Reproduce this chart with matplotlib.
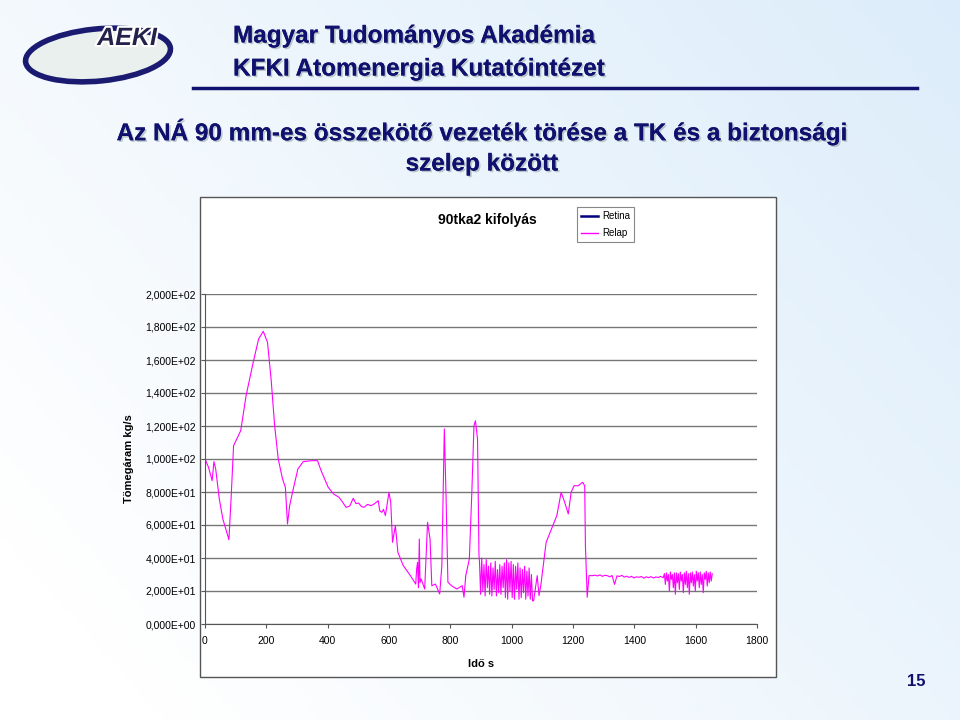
import numpy as np
import matplotlib.pyplot as plt
from matplotlib.patches import Rectangle, Ellipse
import matplotlib.patheffects as pe

# Relap mass flow
t_main_a = [0, 0, 11.6, 23.3, 29.1, 34.9, 46.6, 58.2, 78, 85, 93.2, 116.5, 134, 157.2, 174.7, 189.9,
            203.8, 215.5, 227.1, 238.8, 252.8, 262.1, 269, 276, 287.7, 302.8, 320.3, 349.4, 366.9,
            378.6, 401.9, 419.3, 436.8, 448, 460.1, 472, 483.4, 492, 500.9, 510, 518.3, 530, 541.6,
            552, 564.9, 570, 576.6, 582, 588.2, 599.9, 605.7, 611.5, 620.8, 629, 646.5, 669.8,
            687.2, 690, 693.1, 696, 698.9, 701, 704.7, 716.4, 722, 725.7, 733.8, 739.6, 751.3,
            765.3, 772.3, 780.4, 786.2, 792.1, 803.7, 821.2, 838.7, 844.5, 850.3, 862, 870.1,
            877.1, 881.8, 888.7, 893.4]
m_main_a = [0, 100, 94.9, 86.9, 98.4, 93.9, 75.8, 63.6, 51.1, 75.8, 108.1, 117.2, 138.4, 158.6, 172.7, 177.4,
            170.7, 148.5, 120.2, 100, 87.9, 82.8, 60.6, 71.7, 81.8, 93.9, 98.4, 99, 99,
            92.9, 82.8, 78.8, 76.8, 74.0, 70.7, 71.5, 76.2, 73.0, 73.3, 71.2, 70.7, 72.5, 71.7,
            72.8, 74.7, 68.5, 67.7, 69.5, 65.7, 79.8, 73.7, 49.5, 59.6, 43.4, 35.4, 29.3,
            24.2, 33.0, 37.4, 22.0, 51.5, 25.0, 27.3, 21.2, 45.0, 61.6, 51.5, 23.2, 24.2,
            18.2, 35.4, 118.2, 75.8, 25.3, 23.2, 21.2, 23.2, 16.2, 29.3, 39.4, 79.8,
            120.2, 123.2, 112.1, 41.4]

m_noise_1 = [38, 18, 40, 20, 36, 17, 39, 22, 35, 18, 37, 17, 34, 21, 38, 17, 33, 19, 36, 18,
             35, 22, 37, 16, 39, 15, 37, 20, 38, 16, 36, 15, 35, 21, 37, 15, 34, 16, 33, 19,
             35, 15, 32, 17, 34, 15, 30, 14]
m_main_b = [14.1, 29.3, 17.2, 23.2, 49.5, 57.6, 65.7, 79.8, 73.7, 66.7, 79.8, 83.8, 83.8, 85.9,
            83.8, 47.5, 16.2, 29.3, 29.3]
t_main_b = [1071.6, 1083.3, 1089.1, 1094.9, 1112.4, 1129.9, 1147.3, 1161.3, 1173, 1184.6, 1193.9,
            1203.3, 1217.2, 1231.2, 1238.2, 1240.5, 1246.3, 1252.2, 1263.8]
m_flat = [29.6, 29.1, 29.8, 28.9, 29.5, 29.3, 28.6, 29.4, 24.0, 29.2, 28.8, 29.5, 28.4, 29.0,
          28.2, 28.9, 27.9, 28.6, 28.3, 28.8, 27.8, 28.6, 28.1, 28.7, 27.9, 28.5, 28.2, 28.9, 28.0]
m_noise_2 = [30.5, 24, 31, 26, 30, 20, 31.5, 27, 30, 22, 31, 18, 31, 25, 30.5, 21, 31.5, 26, 30,
             19, 31, 24, 32, 22, 30.5, 18, 31, 25, 31.5, 23, 30, 20, 32, 26, 31, 22, 31.5, 24,
             30, 19, 31, 27, 32, 23, 31, 25, 31.5, 26, 30.5]

t_noise_1 = np.linspace(895, 1068, len(m_noise_1))
t_flat = np.linspace(1272, 1494, len(m_flat))
t_noise_2 = np.linspace(1498, 1654, len(m_noise_2))

time_s = np.concatenate([t_main_a, t_noise_1, t_main_b, t_flat, t_noise_2])
relap = np.concatenate([m_main_a, m_noise_1, m_main_b, m_flat, m_noise_2])

y_ticks = np.arange(0, 201, 20)
x_ticks = np.arange(0, 1801, 200)

NAVY = "#10106e"
HEAD = "Liberation Sans"

fig = plt.figure(figsize=(9.6, 7.2), dpi=100)

# slide background: white fading to pale blue
bg = fig.add_axes([0, 0, 1, 1], zorder=-10)
gx, gy = np.meshgrid(np.linspace(0, 1, 200), np.linspace(0, 1, 150))
grad = np.clip(0.6 * gx + 0.4 * (1 - gy) - 0.1, 0, 1)
colors = np.empty(grad.shape + (3,))
for i, b in enumerate((0.85, 0.92, 0.98)):
    colors[..., i] = 1.0 + (b - 1.0) * grad
bg.imshow(colors, extent=[0, 1, 0, 1], aspect="auto", origin="upper")
bg.set_xlim(0, 1)
bg.set_ylim(0, 1)
bg.axis("off")

# logo
bg.add_patch(Ellipse((98 / 960, 1 - 55 / 720), 146 / 960, 52 / 720, angle=8,
                     facecolor="#eaf0ee", edgecolor="#1a1a70", lw=4))
bg.text(127 / 960, 1 - 38 / 720, "AEKI", fontsize=18, fontweight="bold", fontstyle="italic",
        color="#22224a", ha="center", va="center", family=HEAD,
        path_effects=[pe.withStroke(linewidth=3, foreground="white")])

shadow = [pe.withSimplePatchShadow(offset=(1.2, -1.2), shadow_rgbFace="#9aa", alpha=0.6), pe.Normal()]
bg.text(233 / 960, 1 - 36 / 720, "Magyar Tudományos Akadémia", fontsize=17.5, fontweight="bold",
        color=NAVY, family=HEAD, va="center", path_effects=shadow)
bg.text(233 / 960, 1 - 69 / 720, "KFKI Atomenergia Kutatóintézet", fontsize=17.5, fontweight="bold",
        color=NAVY, family=HEAD, va="center", path_effects=shadow)
bg.plot([193 / 960, 917 / 960], [1 - 88 / 720] * 2, color=NAVY, lw=2.5)
bg.text(482 / 960, 1 - 132 / 720, "Az NÁ 90 mm-es összekötő vezeték törése a TK és a biztonsági",
        fontsize=17.5, fontweight="bold", color=NAVY, family=HEAD, ha="center", va="center",
        path_effects=shadow)
bg.text(482 / 960, 1 - 164 / 720, "szelep között", fontsize=17.5, fontweight="bold", color=NAVY,
        family=HEAD, ha="center", va="center", path_effects=shadow)
bg.text(916 / 960, 1 - 681 / 720, "15", fontsize=12, fontweight="bold", color=NAVY,
        ha="center", va="center", family=HEAD)

# chart frame
bg.add_patch(Rectangle((200 / 960, 1 - 677 / 720), 576 / 960, 480 / 720,
                       facecolor="white", edgecolor="#555555", lw=1))
bg.text(487 / 960, 1 - 220 / 720, "90tka2 kifolyás", fontsize=10, fontweight="bold", ha="center",
        va="center", family=HEAD)
bg.add_patch(Rectangle((577 / 960, 1 - 242 / 720), 57 / 960, 35 / 720,
                       facecolor="white", edgecolor="#888888", lw=0.8))
bg.plot([581 / 960, 598 / 960], [1 - 216 / 720] * 2, color="#000080", lw=1.8)
bg.plot([581 / 960, 598 / 960], [1 - 233 / 720] * 2, color="#ff00ff", lw=1)
bg.text(602 / 960, 1 - 216 / 720, "Retina", fontsize=7, va="center", family=HEAD)
bg.text(602 / 960, 1 - 233 / 720, "Relap", fontsize=7, va="center", family=HEAD)

ax = fig.add_axes([205 / 960, 1 - 624 / 720, 552 / 960, 330 / 720])
ax.plot(time_s, relap, color="#ff00ff", lw=0.8)
ax.set_xlim(0, 1800)
ax.set_ylim(0, 200)
ax.set_yticks(y_ticks)
ax.set_yticklabels([f"{v:.3E}".replace(".", ",") for v in y_ticks], fontsize=7.5, family=HEAD)
ax.set_xticks(x_ticks)
ax.set_xticklabels([str(v) for v in x_ticks], fontsize=7.5, family=HEAD)
ax.grid(axis="y", color="#777777", lw=1)
ax.set_axisbelow(True)
for side in ("top", "right"):
    ax.spines[side].set_visible(False)
ax.spines["left"].set_color("#555555")
ax.spines["bottom"].set_color("#555555")
ax.tick_params(axis="x", length=3, color="#555555", pad=6)
ax.tick_params(axis="y", length=3, color="#555555")
ax.set_xlabel("Idő s", fontsize=8, fontweight="bold", family=HEAD, labelpad=9)
ax.set_ylabel("Tömegáram kg/s", fontsize=8, fontweight="bold", family=HEAD, labelpad=8)

fig.savefig("out.png", dpi=100)
